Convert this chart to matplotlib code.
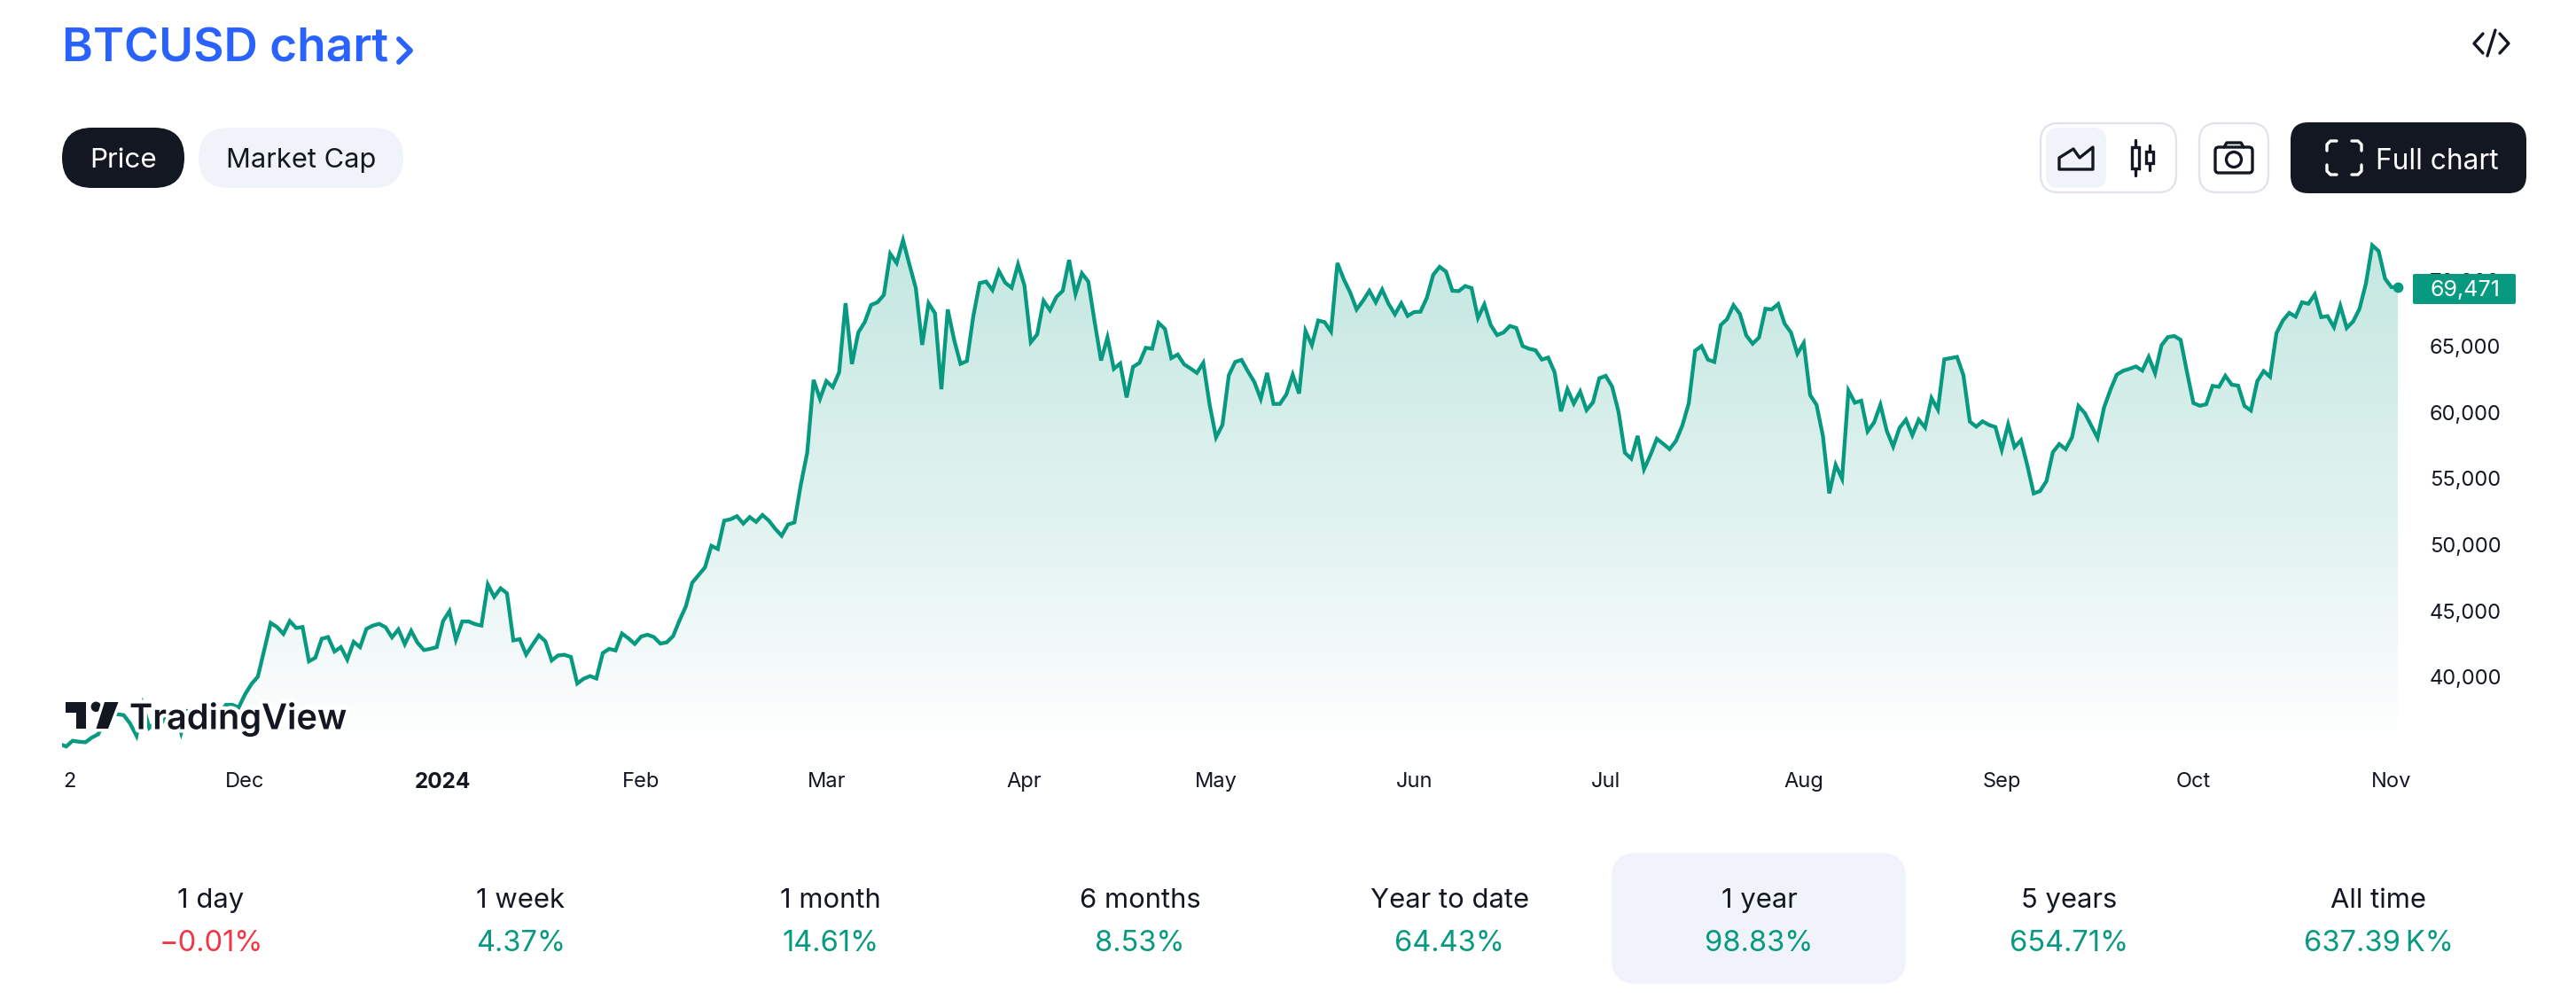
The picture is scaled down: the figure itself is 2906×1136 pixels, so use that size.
import numpy as np
import matplotlib
matplotlib.use("Agg")
import matplotlib.pyplot as plt
import matplotlib.patheffects as pe
from matplotlib.patches import FancyBboxPatch, Polygon, Circle, Rectangle, Ellipse

plt.rcParams['font.family'] = ['Inter', 'DejaVu Sans']

# daily close (the stretch behind the logo is estimated)
prices = [
    34930, 34750, 35180, 35110, 35065, 35420, 35670, 36700, 37300, 37190,
    37120, 36490, 35560, 37880, 36160, 36590, 36580, 37390, 37460, 35780,
    37420, 37290, 37720, 37790, 37450, 37240, 37900, 37900, 37700, 38690,
    39470, 40030, 42040, 44090, 43780, 43260, 44230, 43710, 43780, 41190,
    41460, 42890, 43020, 41930, 42260, 41320, 42660, 42260, 43640, 43890,
    44020, 43760, 43000, 43600, 42480, 43490, 42590, 42040, 42130, 42260,
    44230, 44985, 42820, 44200, 44200, 44000, 43890, 46996, 46060, 46705,
    46330, 42770, 42860, 41700, 42440, 43150, 42710, 41255, 41630, 41680,
    41520, 39510, 39870, 40070, 39890, 41810, 42130, 42010, 43290, 42930,
    42505, 43060, 43200, 43020, 42530, 42620, 43090, 44270, 45340, 47130,
    47710, 48290, 49920, 49680, 51820, 51930, 52160, 51600, 52090, 51730,
    52250, 51820, 51200, 50680, 51530, 51690, 54550, 56960, 62460, 61030,
    62370, 61920, 63040, 68260, 63660, 66050, 66830, 68130, 68330, 68890,
    71995, 71300, 73020, 71190, 69400, 65110, 68260, 67500, 61760, 67790,
    65490, 63680, 63890, 67280, 69780, 69900, 69250, 70700, 69810, 69430,
    71190, 69600, 65310, 65900, 68440, 67730, 68730, 69200, 71530, 68960,
    70520, 69900, 66830, 63930, 65670, 63300, 63700, 61140, 63440, 63750,
    64890, 64820, 66770, 66320, 64110, 64380, 63640, 63330, 62990, 63750,
    60580, 58120, 59060, 62810, 63820, 63975, 63100, 62300, 61030, 62990,
    60650, 60650, 61360, 62860, 61430, 66160, 65090, 66950, 66830, 66120,
    71300, 70070, 69070, 67790, 68440, 69200, 68330, 69290, 68220, 67420,
    68260, 67300, 67590, 67620, 68670, 70410, 71010, 70650, 69200, 69180,
    69560, 69400, 67150, 68170, 66610, 65850, 66050, 66540, 66390, 65020,
    64820, 64710, 64000, 64150, 63040, 60090, 61760, 60670, 61580, 60180,
    60760, 62590, 62770, 61960, 60065, 56960, 56510, 58230, 55710, 56780,
    58010, 57630, 57230, 57850, 59020, 60690, 64670, 65020, 64000, 63820,
    66610, 67060, 68110, 67460, 65830, 65200, 65670, 67840, 67790, 68200,
    66720, 66050, 64440, 65250, 61320, 60580, 58230, 53880, 56040, 54990,
    61650, 60740, 60890, 58570, 59240, 60580, 58610, 57430, 58840, 59460,
    58280, 59460, 58860, 61090, 60220, 64020, 64110, 64200, 62810, 59310,
    58930, 59330, 59060, 58900, 57180, 59100, 57380, 57900, 56000, 53880,
    54060, 54820, 57000, 57610, 57230, 58120, 60490, 59950, 59020, 58080,
    60360, 61700, 62860, 63150, 63300, 63480, 63170, 64200, 62970, 65070,
    65700, 65780, 65490, 63040, 60710, 60510, 60620, 62010, 61940, 62770,
    62100, 62030, 60490, 60150, 62370, 63130, 62700, 65990, 66950, 67530,
    67240, 68330, 68220, 68930, 67210, 67280, 66450, 68060, 66390, 66880,
    67840, 69740, 72640, 72200, 70120, 69471, 69471,
]

x_tick_pos = [1.46, 29, 60, 91, 120, 151, 181, 212, 242, 273, 304, 334, 365]
x_tick_labels = ["2", "Dec", "2024", "Feb", "Mar", "Apr", "May", "Jun", "Jul", "Aug", "Sep", "Oct", "Nov"]
y_ticks = [40000, 45000, 50000, 55000, 60000, 65000, 70000]

periods = ["1 day", "1 week", "1 month", "6 months", "Year to date", "1 year", "5 years", "All time"]
changes = ["\u22120.01%", "4.37%", "14.61%", "8.53%", "64.43%", "98.83%", "654.71%", "637.39\u2009K%"]

GREEN = "#089981"
RED = "#F23645"
DARK = "#131722"
BLUE = "#2962FF"
PALE = "#F0F3FA"
BORDER = "#E0E3EB"

W, H = 2906, 1136
fig = plt.figure(figsize=(W / 100, H / 100), dpi=100, facecolor="white")

# chart area, placed in pixels
left, right, top, bottom = 70, 2705, 250, 850
ax = fig.add_axes([left / W, 1 - bottom / H, (right - left) / W, (bottom - top) / H])
days = np.arange(len(prices))
ax.set_xlim(0.35, 366)
ax.set_ylim(34220, 74430)

# gradient under the line
grad_y = np.linspace(top, bottom, 300)
alpha = np.interp(grad_y, [top, 330, 600, 760, 845], [0.24, 0.218, 0.117, 0.04, 0.0])
rgba = np.zeros((300, 1, 4))
rgba[:, :, :3] = matplotlib.colors.to_rgb(GREEN)
rgba[:, 0, 3] = alpha
im = ax.imshow(rgba, extent=[0.35, 366, 34220, 74430], aspect="auto", origin="upper", zorder=1)
area = ax.fill_between(days, prices, 34220, color="none", zorder=1)
im.set_clip_path(area.get_paths()[0], transform=ax.transData)

ax.plot(days, prices, color=GREEN, lw=3.1, solid_joinstyle="miter", zorder=2)
ax.plot(days[-1], prices[-1], "o", color=GREEN, ms=8.5, mew=0, clip_on=False, zorder=3)

for s in ax.spines.values():
    s.set_visible(False)
ax.yaxis.tick_right()
ax.set_yticks(y_ticks)
ax.set_yticklabels([f"{v:,}" for v in y_ticks])
ax.set_xticks(x_tick_pos)
ax.set_xticklabels(x_tick_labels)
ax.tick_params(axis="y", length=0, pad=26, labelsize=17, labelcolor=DARK)
ax.tick_params(axis="x", length=0, pad=15, labelsize=17, labelcolor=DARK)
ax.get_xticklabels()[2].set_fontweight("bold")
ax.get_xticklabels()[2].set_fontsize(17.5)

# everything around the chart goes on a pixel overlay
ui = fig.add_axes([0, 0, 1, 1])
ui.set_xlim(0, W)
ui.set_ylim(H, 0)
ui.axis("off")
ui.patch.set_alpha(0)


def rbox(x0, y0, x1, y1, r, fc, ec="none", lw=0):
    ui.add_patch(FancyBboxPatch((x0, y0), x1 - x0, y1 - y0, boxstyle=f"round,pad=0,rounding_size={r}",
                                fc=fc, ec=ec, lw=lw))


def stroke(xs, ys, color=DARK, lw=2.4):
    ui.plot(xs, ys, color=color, lw=lw, solid_capstyle="round", solid_joinstyle="round")


# title
ui.text(70, 51, "BTCUSD chart", fontsize=38.2, fontweight=600, color=BLUE, va="center_baseline")
stroke([450, 463, 450], [44, 57, 70], color=BLUE, lw=4.2)
stroke([2801, 2791, 2801], [38, 49, 60])
stroke([2820, 2830, 2820], [38, 49, 60])
stroke([2815, 2806], [34, 63])

# left pills
rbox(70, 144, 208, 212, 34, DARK)
rbox(224, 144, 455, 212, 34, PALE)
ui.text(139, 178, "Price", fontsize=22.6, color="white", ha="center", va="center_baseline")
ui.text(339.5, 178, "Market Cap", fontsize=22.2, color=DARK, ha="center", va="center_baseline")

# right buttons
rbox(2302, 139, 2455, 217, 20, "white", BORDER, 1.6)
rbox(2308, 144, 2376, 212, 14, PALE)
rbox(2481, 139, 2559, 217, 20, "white", BORDER, 1.6)
rbox(2584, 138, 2850, 218, 20, DARK)
ui.text(2749, 179, "Full chart", fontsize=22.8, color="white", ha="center", va="center_baseline")

# area icon
ui.add_patch(Polygon([(2323, 191), (2323, 178), (2339, 168), (2346, 178), (2361, 166), (2361, 191)],
                     closed=True, fc="none", ec=DARK, lw=2.4, joinstyle="round"))
# candle icon
for cx, w0, w1, b0, b1 in [(2409, 158, 198, 166, 190), (2425, 164, 192, 171, 184)]:
    stroke([cx, cx], [w0, b0])
    stroke([cx, cx], [b1, w1])
    ui.add_patch(Rectangle((cx - 4, b0), 8, b1 - b0, fc="none", ec=DARK, lw=2.4))
# camera icon
ui.add_patch(FancyBboxPatch((2499, 166), 42, 29, boxstyle="round,pad=0,rounding_size=4", fc="none", ec=DARK, lw=2.4))
stroke([2509, 2512, 2528, 2531], [166, 161, 161, 166])
ui.add_patch(Circle((2520, 180), 8.5, fc="none", ec=DARK, lw=2.4))
# full chart brackets
for sx, cx in [(1, 2625), (-1, 2664)]:
    for sy, cy in [(1, 159), (-1, 197)]:
        stroke([cx, cx, cx + sx * 4, cx + sx * 11], [cy + sy * 11, cy + sy * 4, cy, cy], color="white", lw=2.4)

# last price badge
rbox(2722, 309, 2838, 343, 2, GREEN)
ui.text(2781, 325, "69,471", fontsize=18, color="white", ha="center", va="center_baseline")

# TradingView logo with its white halo
halo = dict(fc=DARK, ec="white", lw=0)
for patch in [Polygon([(74, 792), (97, 792), (97, 822), (86, 822), (86, 804), (74, 804)], **halo),
              Circle((108.3, 797.3), 5.7, **halo),
              Polygon([(118, 792), (133.5, 792), (122, 822), (108.5, 822)], **halo)]:
    patch.set_path_effects([pe.Stroke(linewidth=5, foreground="white"), pe.Normal()])
    ui.add_patch(patch)
logo = ui.text(146, 807, "TradingView", fontsize=28.6, fontweight=600, color=DARK, va="center_baseline")
logo.set_path_effects([pe.withStroke(linewidth=6, foreground="white")])

# period tabs
rbox(1818, 962, 2150, 1110, 28, PALE)
for k, (name, chg) in enumerate(zip(periods, changes)):
    cx = 238 + 349.3 * k
    ui.text(cx, 1013, name, fontsize=22.3, color=DARK, ha="center", va="center_baseline")
    ui.text(cx, 1061, chg, fontsize=23.5, color=RED if chg.startswith("\u2212") else GREEN,
            ha="center", va="center_baseline")

fig.savefig("out.png", dpi=100)
